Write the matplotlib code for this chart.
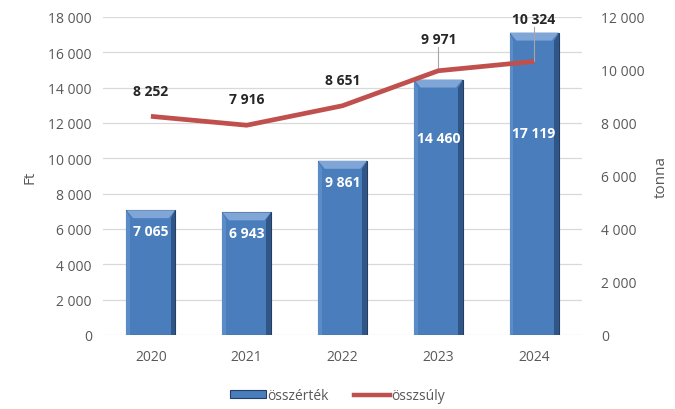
import numpy as np
import matplotlib
matplotlib.use('Agg')
import matplotlib.pyplot as plt
from matplotlib.patches import Rectangle, Polygon
from matplotlib.lines import Line2D

# data
years = ['2020', '2021', '2022', '2023', '2024']
ertek = [7065, 6943, 9861, 14460, 17119]      # Ft (bars, left axis)
suly = [8252, 7916, 8651, 9971, 10324]         # tonna (line, right axis)
left_ticks = list(range(0, 18001, 2000))
right_ticks = list(range(0, 12001, 2000))

# label placement (pixels below bar top / above point)
bar_lab_off = [21, 21, 21, 58, 100]
line_lab_off = [25, 26, 26, 32, 42]

plt.rcParams['font.family'] = ['Open Sans', 'DejaVu Sans']
gray = '#595959'

def fmt(v):
    return '{:,}'.format(v).replace(',', ' ')

fig = plt.figure(figsize=(6.75, 4.1), dpi=100)
ax = fig.add_axes([0.1526, 0.1805, 0.7096, 0.7756])
ax2 = ax.twinx()

x = np.arange(len(years))
w = 0.51
px_per_ft = 318 / 18000.0
for xi, v in zip(x, ertek):
    ax.add_patch(Rectangle((xi - w / 2, 0), w, v, facecolor='#4a7dbb', edgecolor='#243f63', lw=0.8, zorder=2))
    # bevel highlights
    bh = 8 / px_per_ft
    ax.add_patch(Polygon([(xi - w / 2, v), (xi + w / 2, v), (xi + w / 2 - 0.07, v - bh), (xi - w / 2 + 0.07, v - bh)],
                         closed=True, facecolor='#7fa6d6', edgecolor='none', zorder=3))
    ax.add_patch(Polygon([(xi + w / 2, v), (xi + w / 2, 0), (xi + w / 2 - 0.05, 0), (xi + w / 2 - 0.05, v - bh)],
                         closed=True, facecolor='#2f5686', edgecolor='none', zorder=3))
    ax.add_patch(Polygon([(xi - w / 2, v), (xi - w / 2, 0), (xi - w / 2 + 0.04, 0), (xi - w / 2 + 0.04, v - bh)],
                         closed=True, facecolor='#5b8cc8', edgecolor='none', zorder=3))

for xi, v, off in zip(x, ertek, bar_lab_off):
    ax.text(xi, v - off / px_per_ft, fmt(v), ha='center', va='center', color='white',
            fontsize=10, fontweight='bold', zorder=5)

ax.set_xlim(-0.5, 4.5)
ax.set_ylim(0, 18000)
ax.set_yticks(left_ticks)
ax.set_yticklabels([fmt(t) for t in left_ticks])
ax.set_xticks(x)
ax.set_xticklabels(years)
ax.grid(axis='y', color='#d9d9d9', lw=0.9, zorder=0)
ax.set_axisbelow(True)
for s in ax.spines.values():
    s.set_visible(False)
for s in ax2.spines.values():
    s.set_visible(False)
ax.tick_params(axis='both', length=0, colors=gray, labelsize=10, pad=8)
ax.tick_params(axis='x', pad=10)
ax.set_ylabel('Ft', color=gray, fontsize=11, labelpad=8)

ax2.plot(x, suly, color='#c0504d', lw=3.4, zorder=4, solid_capstyle='butt')
ax2.set_ylim(0, 12000)
ax2.set_yticks(right_ticks)
ax2.set_yticklabels([fmt(t) for t in right_ticks])
ax2.tick_params(axis='y', length=0, colors=gray, labelsize=10, pad=14)
ax2.set_ylabel('tonna', color=gray, fontsize=11, labelpad=6)

px_per_t = 318 / 12000.0
for i, (xi, v, off) in enumerate(zip(x, suly, line_lab_off)):
    ly = v + off / px_per_t
    ax2.text(xi, ly, fmt(v), ha='center', va='center', color='#262626',
             fontsize=10, fontweight='bold', zorder=6)
    if off > 30:
        ax2.plot([xi, xi], [v, ly - 8 / px_per_t], color='#a6a6a6', lw=0.8, zorder=3)

handles = [Rectangle((0, 0), 1, 1, facecolor='#4a7dbb', edgecolor='#243f63', lw=0.8),
           Line2D([0], [0], color='#c0504d', lw=3.2)]
fig.legend(handles, ['összérték', 'összsúly'], loc='center', bbox_to_anchor=(0.5, 0.032), ncol=2,
           frameon=False, fontsize=10, labelcolor=gray, handlelength=2.6, handleheight=0.5,
           handletextpad=0.1, columnspacing=1.8)

fig.savefig('out.png', dpi=100)
